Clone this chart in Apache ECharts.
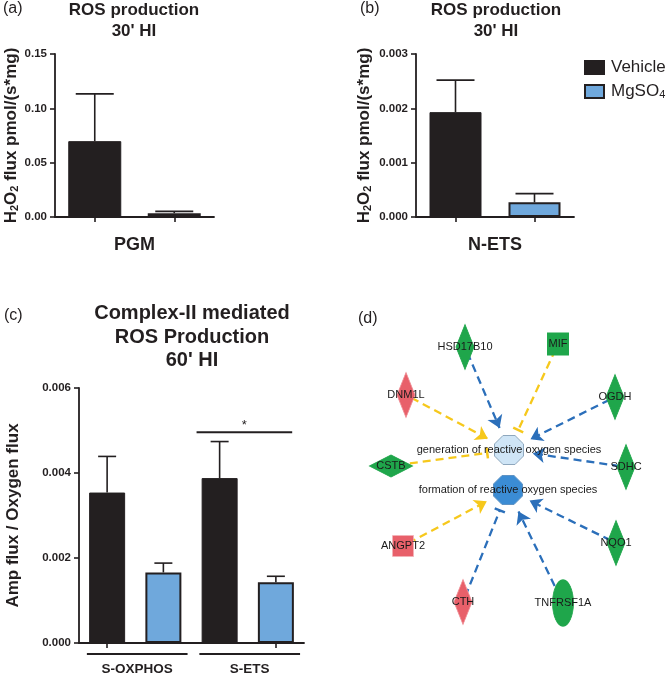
<!DOCTYPE html>
<html><head><meta charset="utf-8">
<script src="https://cdn.jsdelivr.net/npm/echarts@6/dist/echarts.min.js"></script>
<style>html,body{margin:0;padding:0;background:#fff}#c{width:669px;height:676px}</style>
</head><body><div id="c"></div>
<script>
// ---------------- data ----------------
const treatments = ['Vehicle', 'MgSO4'];
// (a) PGM, 30' HI
const pgmMean  = [0.0698, 0.0035];
const pgmUpper = [0.1133, 0.0052];
const aTickLabels = ['0.00', '0.05', '0.10', '0.15'];
// (b) N-ETS, 30' HI
const netsMean  = [0.00193, 0.00027];
const netsUpper = [0.00252, 0.00043];
const bTickLabels = ['0.000', '0.001', '0.002', '0.003'];
// (c) Complex-II mediated, 60' HI
const cCategories = ['S-OXPHOS Vehicle', 'S-OXPHOS MgSO4', 'S-ETS Vehicle', 'S-ETS MgSO4'];
const cTreatment  = ['Vehicle', 'MgSO4', 'Vehicle', 'MgSO4'];
const cMean  = [0.00354, 0.00166, 0.00388, 0.00143];
const cUpper = [0.00439, 0.00188, 0.00474, 0.00157];
const cTickLabels = ['0.000', '0.002', '0.004', '0.006'];
const cGroupLabels = ['S-OXPHOS', 'S-ETS'];
const cGroupSpans  = [[0, 1], [2, 3]];
const cSigSpans  = [[2, 3, 0.00496]];
const cSigLabels = ['*'];
// (d) network
const nodeNames = ['generation of reactive oxygen species', 'formation of reactive oxygen species',
  'HSD17B10', 'MIF', 'DNM1L', 'OGDH', 'CSTB', 'SDHC', 'ANGPT2', 'NQO1', 'CTH', 'TNFRSF1A'];
const nodeX = [149, 148, 105, 198, 46, 255, 31, 266, 43, 256, 103, 203];
const nodeY = [150, 190, 47, 44, 95, 97, 166, 167, 246, 243, 302, 303];
const nodeType = ['function', 'function', 'enzyme', 'cytokine', 'enzyme', 'enzyme', 'peptidase',
  'enzyme', 'growth factor', 'enzyme', 'enzyme', 'transmembrane receptor'];
const nodeState = ['weak', 'strong', 'down', 'down', 'up', 'down', 'down', 'down', 'up', 'down', 'up', 'down'];
const edgeFrom = ['HSD17B10', 'MIF', 'DNM1L', 'OGDH', 'SDHC', 'CSTB', 'ANGPT2', 'CTH', 'TNFRSF1A', 'NQO1'];
const edgeTo = ['generation of reactive oxygen species', 'generation of reactive oxygen species',
  'generation of reactive oxygen species', 'generation of reactive oxygen species',
  'generation of reactive oxygen species', 'generation of reactive oxygen species',
  'formation of reactive oxygen species', 'formation of reactive oxygen species',
  'formation of reactive oxygen species', 'formation of reactive oxygen species'];
const edgeFinding = ['decrease', 'inconsistent', 'inconsistent', 'decrease', 'decrease', 'inconsistent',
  'inconsistent', 'decrease', 'decrease', 'decrease'];
const edgeKind = ['acts on', 'inhibits', 'acts on', 'acts on', 'acts on', 'inhibits',
  'acts on', 'inhibits', 'acts on', 'acts on'];

// ---------------- styles ----------------
const FONT = '"Liberation Sans", Arial, Helvetica, sans-serif';
const INK = '#231f20';
const BLUEBAR = '#6fa8dc';
const barColor = {Vehicle: INK, MgSO4: BLUEBAR};
const OCT = 'path://M-4.14,-10L4.14,-10L10,-4.14L10,4.14L4.14,10L-4.14,10L-10,4.14L-10,-4.14Z';
const ELLIPSE = 'path://M0,-10A5,10 0 1,1 0,10A5,10 0 1,1 0,-10Z';
const typeStyle = {
  'function': {symbol: OCT, size: [29, 29]},
  'enzyme': {symbol: 'diamond', size: [18, 45]},
  'peptidase': {symbol: 'diamond', size: [43, 22]},
  'cytokine': {symbol: 'rect', size: [21, 22]},
  'growth factor': {symbol: 'rect', size: [21, 21], dashed: true},
  'transmembrane receptor': {symbol: ELLIPSE, size: [21, 46]}
};
const stateStyle = {
  up: {color: '#e8606a', borderColor: '#ef8f96'},
  down: {color: '#1fa64b', borderColor: '#1fa64b'},
  weak: {color: '#cfe5f6', borderColor: '#8ea7bd'},
  strong: {color: '#3b8cd4', borderColor: '#5f93c4'}
};
const findingColor = {decrease: '#2b6fba', inconsistent: '#f6c81c'};

// ---------------- helpers ----------------
function axisY(grid, max, interval, labels, name, gap) {
  return {
    type: 'value', gridIndex: grid, min: 0, max: max, interval: interval,
    axisLine: {show: true, lineStyle: {color: INK, width: 1.8}},
    axisTick: {show: true, length: 5, lineStyle: {color: INK, width: 1.6}},
    splitLine: {show: false},
    axisLabel: {margin: 8, fontFamily: FONT, fontWeight: 'bold', fontSize: 11.5, color: INK,
      formatter: function (v) { return labels[Math.round(v / interval)]; }},
    name: name, nameLocation: 'middle', nameRotate: 90, nameGap: gap,
    nameTextStyle: {fontFamily: FONT, fontWeight: 'bold', fontSize: 17, color: INK,
      rich: {sub: {fontFamily: FONT, fontWeight: 'bold', fontSize: 11, color: INK, padding: [7, 0, 0, 0]}}}
  };
}
function axisX(grid, cats, name) {
  return {
    type: 'category', gridIndex: grid, data: cats,
    axisLine: {show: true, lineStyle: {color: INK, width: 1.8}},
    axisTick: {show: true, alignWithLabel: true, length: 5, lineStyle: {color: INK, width: 1.6}},
    axisLabel: {show: false},
    name: name || '', nameLocation: 'middle', nameGap: 19,
    nameTextStyle: {fontFamily: FONT, fontWeight: 'bold', fontSize: 18, color: INK}
  };
}
function barSeries(grid, cats, catTreat, means, width) {
  return treatments.map(function (t) {
    return {
      type: 'bar', name: t, xAxisIndex: grid, yAxisIndex: grid,
      barWidth: width, barGap: '-100%',
      itemStyle: {color: barColor[t], borderColor: INK, borderWidth: t === 'MgSO4' ? 2 : 1},
      data: cats.map(function (c, i) { return catTreat[i] === t ? means[i] : '-'; }),
      z: 2
    };
  });
}
function errorSeries(grid, means, uppers, capW) {
  return {
    type: 'custom', xAxisIndex: grid, yAxisIndex: grid, z: 3,
    data: means.map(function (m, i) { return [i, m, uppers[i]]; }),
    encode: {x: 0, y: [1, 2]},
    renderItem: function (params, api) {
      const p0 = api.coord([api.value(0), api.value(1)]);
      const p1 = api.coord([api.value(0), api.value(2)]);
      const st = {stroke: INK, lineWidth: 1.6};
      return {type: 'group', children: [
        {type: 'line', shape: {x1: p0[0], y1: p0[1], x2: p1[0], y2: p1[1]}, style: st},
        {type: 'line', shape: {x1: p1[0] - capW / 2, y1: p1[1], x2: p1[0] + capW / 2, y2: p1[1]}, style: st}
      ]};
    }
  };
}

// network nodes & edges
const nodeData = nodeNames.map(function (n, i) {
  const ts = typeStyle[nodeType[i]], ss = stateStyle[nodeState[i]];
  return {
    name: n, value: [nodeX[i], nodeY[i]], symbol: ts.symbol, symbolSize: ts.size,
    itemStyle: {color: ss.color, opacity: 1, borderColor: ts.dashed ? '#f3b3b8' : ss.borderColor, borderWidth: 1,
      borderType: ts.dashed ? [3, 2] : 'solid'}
  };
});
function edgeLine(i, endGap) {
  const a = nodeNames.indexOf(edgeFrom[i]), b = nodeNames.indexOf(edgeTo[i]);
  const x1 = nodeX[a], y1 = nodeY[a], x2 = nodeX[b], y2 = nodeY[b];
  const dx = x2 - x1, dy = y2 - y1, L = Math.sqrt(dx * dx + dy * dy);
  const ux = dx / L, uy = dy / L;
  return {
    coords: [[x1 + ux * 6, y1 + uy * 6], [x2 - ux * endGap, y2 - uy * endGap]],
    lineStyle: {color: findingColor[edgeFinding[i]]}
  };
}
const arrowEdges = [], barEdges = [];
edgeKind.forEach(function (k, i) {
  if (k === 'inhibits') barEdges.push(edgeLine(i, 22));
  else arrowEdges.push(edgeLine(i, 24));
});

const chart = echarts.init(document.getElementById('c'), null, {renderer: 'canvas'});
const titleBold = {fontFamily: FONT, fontWeight: 'bold', fontSize: 17, lineHeight: 21, color: INK};
const panelLab = {fontFamily: FONT, fontWeight: 'normal', fontSize: 16, lineHeight: 16, color: INK};

const option = {
  animation: false,
  backgroundColor: '#fff',
  title: [
    {text: "ROS production\n30' HI", left: 134, top: 0, padding: 0, textAlign: 'center', textStyle: titleBold},
    {text: "ROS production\n30' HI", left: 496, top: 0, padding: 0, textAlign: 'center', textStyle: titleBold},
    {text: "Complex-II mediated\nROS Production\n60' HI", left: 192, top: 302, padding: 0, textAlign: 'center',
      textStyle: Object.assign({}, titleBold, {fontSize: 20, lineHeight: 23.5})},
    {text: '(a)', left: 3, top: 1, padding: 0, textStyle: panelLab},
    {text: '(b)', left: 360, top: 1, padding: 0, textStyle: panelLab},
    {text: '(c)', left: 4, top: 308, padding: 0, textStyle: panelLab},
    {text: '(d)', left: 358, top: 311, padding: 0, textStyle: panelLab}
  ],
  legend: {
    orient: 'vertical', left: 584, top: 59, padding: 0, itemGap: 7,
    itemWidth: 19, itemHeight: 13, icon: 'rect', selectedMode: false,
    data: treatments,
    formatter: function (n) { return n === 'MgSO4' ? 'MgSO{s|4}' : n; },
    textStyle: {fontFamily: FONT, fontSize: 17, color: INK, lineHeight: 17, padding: [0, 0, 0, 2],
      rich: {s: {fontFamily: FONT, fontSize: 11, color: INK, lineHeight: 11, padding: [6, 0, 0, 0]}}}
  },
  grid: [
    {left: 55, top: 54, width: 159, height: 163},
    {left: 416, top: 54, width: 158, height: 163},
    {left: 79, top: 388, width: 225, height: 255},
    {left: 360, top: 300, width: 300, height: 360}
  ],
  xAxis: [
    axisX(0, treatments, 'PGM'),
    axisX(1, treatments, 'N-ETS'),
    axisX(2, cCategories, ''),
    {type: 'value', gridIndex: 3, min: 0, max: 300, show: false}
  ],
  yAxis: [
    axisY(0, 0.15, 0.05, aTickLabels, 'H{sub|2}O{sub|2} flux pmol/(s*mg)', 35),
    axisY(1, 0.003, 0.001, bTickLabels, 'H{sub|2}O{sub|2} flux pmol/(s*mg)', 43),
    axisY(2, 0.006, 0.002, cTickLabels, 'Amp flux / Oxygen flux', 57),
    {type: 'value', gridIndex: 3, min: 0, max: 360, inverse: true, show: false}
  ],
  series: [].concat(
    barSeries(0, treatments, treatments, pgmMean, 53),
    [errorSeries(0, pgmMean, pgmUpper, 38)],
    barSeries(1, treatments, treatments, netsMean, 52),
    [errorSeries(1, netsMean, netsUpper, 38)],
    barSeries(2, cCategories, cTreatment, cMean, 36),
    [errorSeries(2, cMean, cUpper, 18)],
    [{
      type: 'custom', xAxisIndex: 2, yAxisIndex: 2, z: 3,
      data: cGroupSpans, encode: {x: [0, 1]},
      renderItem: function (params, api) {
        const s = api.coord([api.value(0), 0]), e = api.coord([api.value(1), 0]);
        const bw = api.size([1, 0])[0];
        const y = s[1] + 11, x1 = s[0] - bw * 0.36, x2 = e[0] + bw * 0.43;
        return {type: 'group', children: [
          {type: 'line', shape: {x1: x1, y1: y, x2: x2, y2: y}, style: {stroke: INK, lineWidth: 2}},
          {type: 'text', x: (x1 + x2) / 2, y: y + 8, style: {text: cGroupLabels[params.dataIndex],
            align: 'center', verticalAlign: 'top', fontFamily: FONT, fontWeight: 'bold', fontSize: 13.5, fill: INK}}
        ]};
      }
    }, {
      type: 'custom', xAxisIndex: 2, yAxisIndex: 2, z: 3,
      data: cSigSpans, encode: {x: [0, 1], y: 2},
      renderItem: function (params, api) {
        const s = api.coord([api.value(0), api.value(2)]), e = api.coord([api.value(1), api.value(2)]);
        const bw = api.size([1, 0])[0];
        const x1 = s[0] - bw * 0.41, x2 = e[0] + bw * 0.29;
        return {type: 'group', children: [
          {type: 'line', shape: {x1: x1, y1: s[1], x2: x2, y2: s[1]}, style: {stroke: INK, lineWidth: 2}},
          {type: 'text', x: (x1 + x2) / 2, y: s[1] - 7, style: {text: cSigLabels[params.dataIndex],
            align: 'center', verticalAlign: 'middle', fontFamily: FONT, fontSize: 13, fill: INK}}
        ]};
      }
    }],
    [{
      type: 'lines', coordinateSystem: 'cartesian2d', xAxisIndex: 3, yAxisIndex: 3, z: 1,
      symbol: ['none', 'arrow'], symbolSize: [0, 12],
      lineStyle: {width: 2.3, type: [8, 5], opacity: 1, curveness: 0},
      data: arrowEdges
    }, {
      type: 'lines', coordinateSystem: 'cartesian2d', xAxisIndex: 3, yAxisIndex: 3, z: 1,
      symbol: ['none', 'rect'], symbolSize: [0, [11, 2.5]],
      lineStyle: {width: 2.3, type: [8, 5], opacity: 1, curveness: 0},
      data: barEdges
    }, {
      type: 'scatter', xAxisIndex: 3, yAxisIndex: 3, z: 5,
      itemStyle: {opacity: 1},
      label: {show: true, position: 'inside', formatter: '{b}', fontFamily: FONT, fontSize: 11,
        color: '#1a1a1a', opacity: 1},
      data: nodeData
    }]
  )
};
chart.setOption(option);
</script></body></html>
